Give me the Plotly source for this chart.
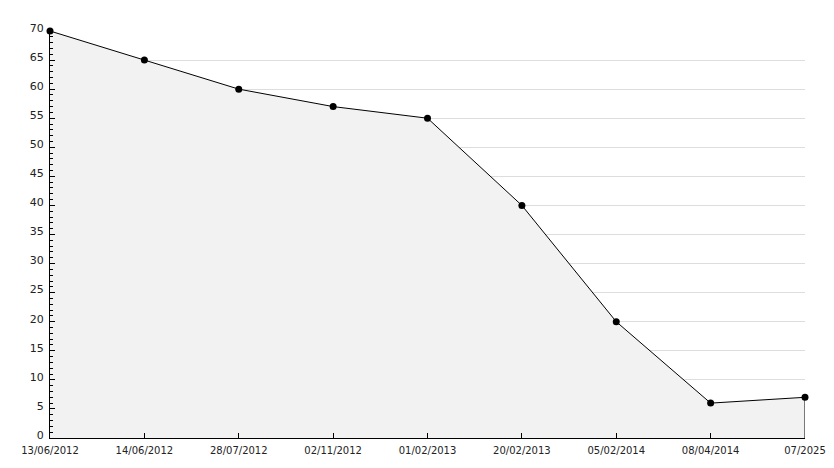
import plotly.graph_objects as go

dates = ["13/06/2012", "14/06/2012", "28/07/2012", "02/11/2012", "01/02/2013",
         "20/02/2013", "05/02/2014", "08/04/2014", "07/2025"]
values = [70, 65, 60, 57, 55, 40, 20, 6, 7]
y_ticks = list(range(0, 75, 5))

fig = go.Figure()
fig.add_trace(go.Scatter(
    x=dates, y=values, mode="lines+markers", fill="tozeroy",
    fillcolor="#f2f2f2", line=dict(color="black", width=1),
    marker=dict(color="black", size=7, symbol="circle"),
    hoverinfo="x+y", showlegend=False, cliponaxis=False,
))
# closing edge of the filled area at the last category
fig.add_trace(go.Scatter(
    x=[dates[-1], dates[-1]], y=[0, values[-1]], mode="lines",
    line=dict(color="black", width=1), hoverinfo="skip", showlegend=False,
    cliponaxis=False,
))

font = dict(family="DejaVu Sans", size=10, color="#222")
# page body has an 8px margin, so the figure is sized/offset to compensate
fig.update_layout(
    width=818, height=452,
    margin=dict(l=42, r=21, t=23, b=22),
    paper_bgcolor="white", plot_bgcolor="white",
    font=font,
    xaxis=dict(
        type="category", categoryorder="array", categoryarray=dates,
        range=[0, len(dates) - 1], showgrid=False, zeroline=False,
        showline=True, linecolor="black", linewidth=1,
        ticks="inside", ticklen=5, tickcolor="black",
        tickvals=dates, ticktext=dates, tickfont=font, automargin=False,
        ticklabelstandoff=3,
    ),
    yaxis=dict(
        range=[0, 70], tickvals=y_ticks, showgrid=True, gridcolor="#dddddd",
        gridwidth=1, zeroline=False, showline=True, linecolor="black",
        linewidth=1, ticks="inside", ticklen=5, tickcolor="black",
        tickfont=dict(family="DejaVu Sans", size=11, color="#222"),
        minor=dict(dtick=1, ticks="inside", ticklen=3, tickcolor="black", showgrid=False),
        automargin=False, ticklabelshift=-3, ticklabelstandoff=3,
    ),
)
fig.write_html("out.html")
